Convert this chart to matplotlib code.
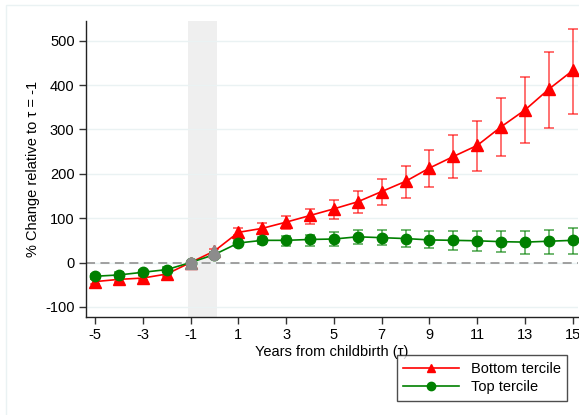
import matplotlib
matplotlib.use("Agg")
import matplotlib.pyplot as plt
from matplotlib.patches import Rectangle

plt.rcParams["font.family"] = ["Liberation Sans", "DejaVu Sans"]
plt.rcParams["axes.unicode_minus"] = False

# event time (years from childbirth)
tau = list(range(-5, 16))

# bottom tercile: point estimate and CI bounds
bottom = [-43, -38, -35, -26, 0, 26, 68, 77, 91, 106, 121, 137, 160, 183,
          213, 239, 264, 306, 344, 391, 433]
bottom_hi = [-38, -33, -30, -21, 0, 31, 77, 88, 105, 121, 140, 161, 189, 217,
             253, 287, 319, 371, 418, 475, 527]
bottom_lo = [-48, -43, -40, -31, 0, 21, 61, 65, 76, 86, 97, 111, 129, 146,
             171, 190, 207, 240, 269, 304, 335]

# top tercile
top = [-31, -28, -22, -16, 0, 18, 44, 50, 50, 52, 53, 58, 56, 54,
       51, 50, 49, 47, 46, 48, 50]
top_hi = [-25, -22, -16, -11, 0, 23, 50, 58, 59, 63, 68, 74, 74, 73,
          71, 72, 71, 71, 71, 73, 77]
top_lo = [-37, -34, -28, -21, 0, 13, 37, 41, 38, 38, 38, 42, 39, 35,
          32, 29, 27, 24, 20, 20, 20]

xticks = list(range(-5, 16, 2))
yticks = [-100, 0, 100, 200, 300, 400, 500]

RED = "#FF0000"
GREEN = "#008000"
GRID = "#EAF2F3"

fig = plt.figure(figsize=(5.79, 4.15), dpi=100)
ax = fig.add_axes([0.148, 0.237, 0.850, 0.713])

# faint outer graph-region frame
fig.patches.append(Rectangle((0.010, -0.01), 1.2, 0.998, transform=fig.transFigure,
                             fill=False, edgecolor=GRID, linewidth=1.0))

ax.axvspan(-1.12, 0.09, color="#EFEFEF", zorder=0, linewidth=0)
for y in yticks:
    ax.axhline(y, color=GRID, linewidth=1.0, zorder=0.5)
ax.axhline(0, color="#999999", linestyle=(0, (5, 3)), linewidth=1.3, zorder=1)


def draw(vals, lo, hi, color, marker, ms, label):
    err = [[v - l for v, l in zip(vals, lo)], [h - v for v, h in zip(vals, hi)]]
    ax.errorbar(tau, vals, yerr=err, fmt="none", ecolor=color, alpha=0.6,
                elinewidth=1.3, capsize=3.5, capthick=1.3, zorder=2)
    ax.plot(tau, vals, color=color, linewidth=1.2, marker=marker, markersize=ms,
            markeredgecolor=color, markerfacecolor=color, zorder=3, label=label)
    # reference-period markers drawn in gray
    pre = [i for i, t in enumerate(tau) if t in (-1, 0)]
    ax.plot([tau[i] for i in pre], [vals[i] for i in pre], linestyle="none",
            marker=marker, markersize=ms, color="#8C8C8C", zorder=4)


draw(bottom, bottom_lo, bottom_hi, RED, "^", 8, "Bottom tercile")
draw(top, top_lo, top_hi, GREEN, "o", 7.5, "Top tercile")

ax.set_xlim(-5.39, 15.21)
ax.set_ylim(-122, 545)
ax.set_xticks(xticks)
ax.set_yticks(yticks)
ax.tick_params(axis="both", direction="out", length=5, width=1, color="#333333",
               labelsize=10.5, pad=3)
for side in ("top", "right"):
    ax.spines[side].set_visible(False)
for side in ("left", "bottom"):
    ax.spines[side].set_color("#222222")
    ax.spines[side].set_linewidth(1.0)

ax.set_xlabel("Years from childbirth (\u03c4)", fontsize=10.5, labelpad=2)
ax.set_ylabel("% Change relative to \u03c4 = -1", fontsize=10.5, labelpad=4)

leg = fig.legend(loc="lower right", bbox_to_anchor=(0.992, 0.017), fontsize=10.5,
                 frameon=True, fancybox=False, edgecolor="#222222",
                 borderpad=0.45, handlelength=3.8, labelspacing=0.3)
leg.get_frame().set_linewidth(1.0)
for h in leg.legend_handles:
    h.set_markersize(6)

fig.savefig("out.png", dpi=100)
